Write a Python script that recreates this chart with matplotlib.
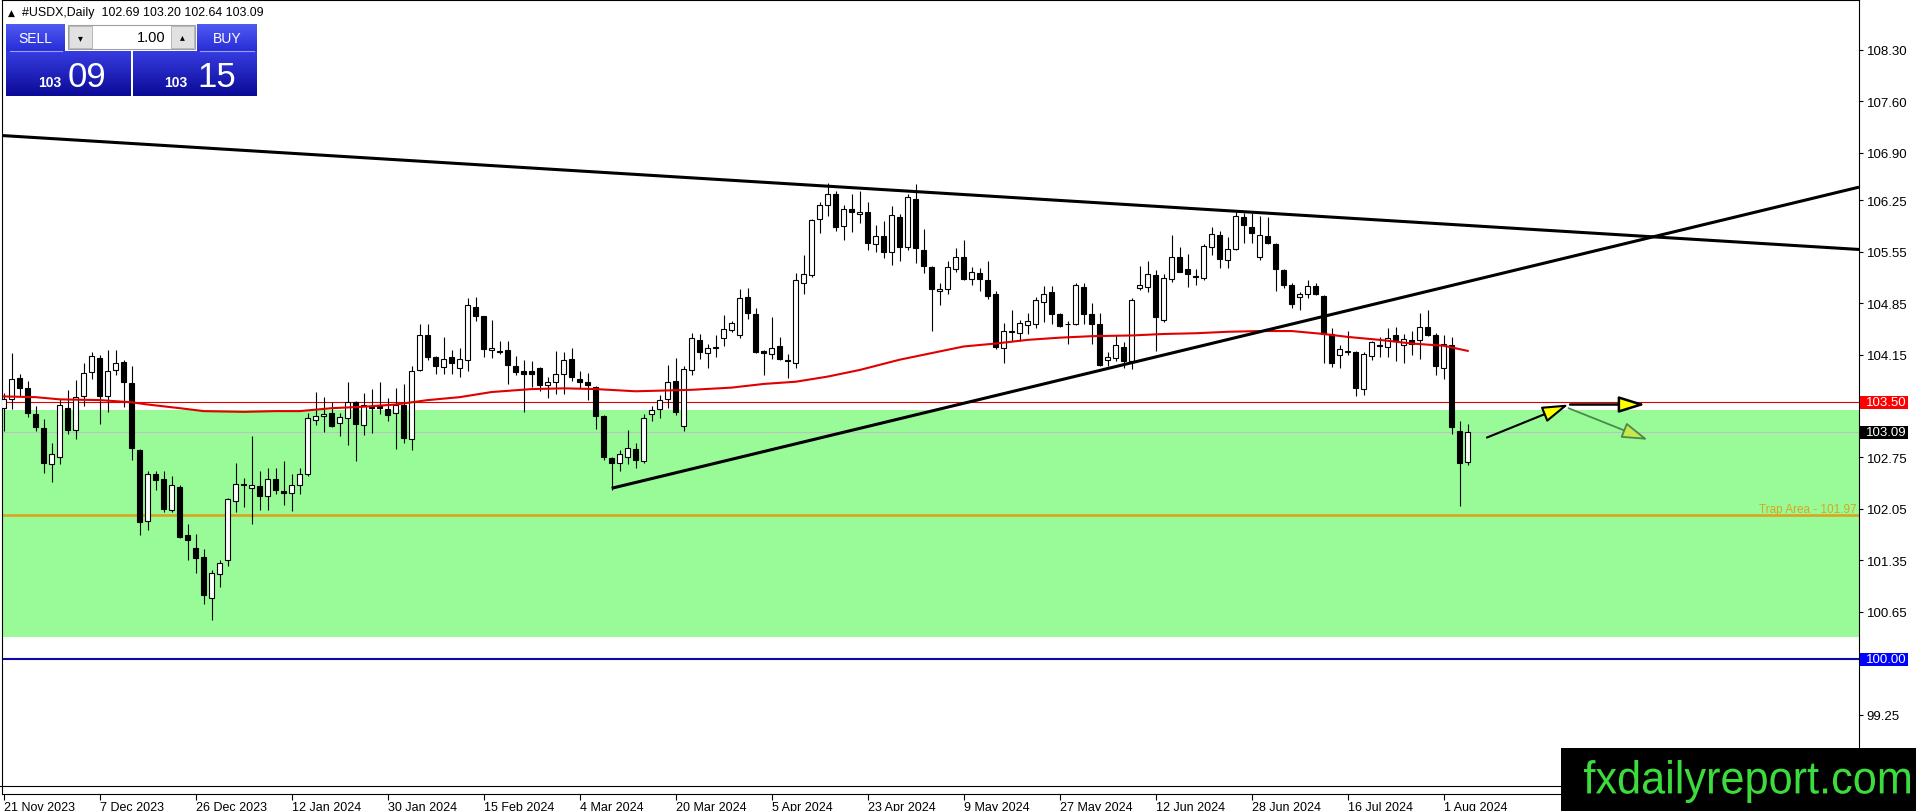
import numpy as np
import matplotlib
matplotlib.use('Agg')
import matplotlib.pyplot as plt
from matplotlib.patches import Rectangle, PathPatch
from matplotlib.textpath import TextPath
from matplotlib.font_manager import FontProperties
from matplotlib.transforms import Affine2D, blended_transform_factory

# ---- data (USDX daily, 21 Nov 2023 .. 6 Aug 2024) ----
opens = [103.42, 103.54, 103.83, 103.69, 103.34, 103.15, 102.66, 102.76, 103.42, 103.12,
         103.58, 103.91, 104.10, 103.59, 103.94, 104.05, 103.76, 102.85, 101.88, 102.53,
         102.45, 102.04, 102.35, 101.70, 101.51, 101.40, 100.84, 101.16, 101.35, 102.16,
         102.38, 102.34, 102.36, 102.22, 102.45, 102.29, 102.26, 102.38, 102.53, 103.26,
         103.31, 103.35, 103.22, 103.28, 103.50, 103.19, 103.42, 103.45, 103.41, 103.35,
         103.46, 103.00, 103.94, 104.42, 104.12, 103.98, 104.11, 103.97, 104.07, 104.80,
         104.67, 104.21, 104.20, 104.21, 103.99, 103.93, 103.92, 103.97, 103.74, 103.77,
         103.88, 104.09, 103.82, 103.78, 103.71, 103.32, 102.74, 102.68, 102.76, 102.86,
         102.70, 103.34, 103.41, 103.54, 103.79, 103.18, 103.94, 104.35, 104.17, 104.24,
         104.38, 104.48, 104.42, 104.93, 104.70, 104.20, 104.16, 104.26, 104.07, 104.04,
         105.13, 105.23, 106.00, 106.18, 106.33, 105.90, 106.13, 106.06, 106.09, 105.65,
         105.77, 105.54, 106.02, 105.61, 106.27, 105.58, 105.34, 105.01, 105.04, 105.32,
         105.48, 105.18, 105.26, 105.17, 104.97, 104.24, 104.46, 104.44, 104.55, 104.57,
         104.87, 105.00, 104.70, 104.56, 104.57, 105.07, 104.70, 104.57, 104.08, 104.10,
         104.25, 104.06, 105.06, 105.07, 105.23, 104.62, 105.18, 105.48, 105.32, 105.22,
         105.19, 105.62, 105.78, 105.44, 105.59, 106.02, 105.89, 105.48, 105.77, 105.66,
         105.30, 105.09, 104.93, 104.97, 105.08, 104.95, 104.43, 104.15, 104.19, 104.19,
         103.68, 104.13, 104.28, 104.25, 104.41, 104.28, 104.35, 104.35, 104.52, 104.42,
         103.97, 104.28, 103.11, 102.69]
highs = [103.63, 104.17, 103.88, 103.79, 103.45, 103.27, 102.95, 103.54, 103.67, 103.80,
         104.04, 104.19, 104.14, 104.21, 104.21, 104.07, 103.99, 102.86, 102.57, 102.56,
         102.57, 102.49, 102.38, 101.84, 101.71, 101.50, 101.22, 101.35, 102.20, 102.67,
         102.47, 103.04, 102.56, 102.60, 102.60, 102.70, 102.53, 102.60, 103.36, 103.64,
         103.57, 103.51, 103.35, 103.78, 103.52, 103.63, 103.68, 103.78, 103.56, 103.69,
         103.75, 104.00, 104.56, 104.56, 104.13, 104.39, 104.21, 104.24, 104.92, 104.94,
         104.68, 104.62, 104.34, 104.34, 104.13, 104.07, 104.06, 103.98, 103.84, 104.20,
         104.18, 104.24, 103.92, 103.90, 103.72, 103.33, 102.75, 102.85, 103.12, 102.95,
         103.34, 103.45, 103.60, 104.01, 104.10, 104.00, 104.45, 104.43, 104.29, 104.42,
         104.69, 104.61, 105.04, 105.06, 104.79, 104.21, 104.66, 104.39, 104.16, 105.26,
         105.50, 106.00, 106.23, 106.48, 106.38, 106.18, 106.33, 106.37, 106.22, 105.91,
         105.97, 106.17, 106.06, 106.34, 106.47, 105.86, 105.35, 105.12, 105.42, 105.60,
         105.71, 105.34, 105.33, 105.43, 105.01, 104.58, 104.76, 104.62, 104.72, 104.94,
         105.08, 105.08, 104.71, 104.60, 105.12, 105.13, 104.85, 104.72, 104.18, 104.42,
         104.32, 104.92, 105.36, 105.43, 105.30, 105.25, 105.78, 105.62, 105.52, 105.32,
         105.66, 105.89, 105.83, 105.75, 106.09, 106.08, 106.08, 106.03, 106.02, 105.67,
         105.31, 105.12, 105.00, 105.17, 105.13, 104.96, 104.51, 104.28, 104.47, 104.20,
         104.18, 104.34, 104.39, 104.51, 104.52, 104.43, 104.47, 104.71, 104.76, 104.44,
         104.41, 104.39, 103.24, 103.20]
lows = [103.11, 103.41, 103.59, 103.30, 103.11, 102.54, 102.41, 102.66, 103.07, 103.00,
        103.45, 103.82, 103.21, 103.37, 103.87, 103.43, 102.72, 101.70, 101.76, 102.31,
        102.00, 102.00, 101.65, 101.36, 101.18, 100.75, 100.54, 100.99, 101.27, 102.01,
        102.08, 101.84, 102.03, 102.03, 102.25, 102.10, 102.02, 102.25, 102.50, 103.19,
        103.09, 103.16, 103.04, 102.92, 102.70, 103.06, 103.08, 103.34, 103.25, 102.87,
        102.95, 102.85, 103.92, 104.07, 103.88, 103.89, 103.89, 103.84, 103.92, 104.61,
        104.12, 104.10, 104.16, 103.75, 103.87, 103.37, 103.71, 103.66, 103.56, 103.61,
        103.61, 103.79, 103.69, 103.53, 103.13, 102.72, 102.30, 102.57, 102.66, 102.60,
        102.68, 103.25, 103.28, 103.42, 103.33, 103.11, 103.87, 104.09, 103.97, 104.11,
        104.26, 104.46, 104.37, 104.63, 104.17, 103.87, 104.09, 104.07, 103.83, 103.97,
        104.98, 105.20, 105.80, 106.04, 105.83, 105.71, 105.82, 105.94, 105.58, 105.54,
        105.47, 105.37, 105.43, 105.58, 105.39, 105.26, 104.47, 104.82, 104.97, 105.27,
        105.16, 105.09, 105.01, 104.91, 104.23, 104.04, 104.34, 104.34, 104.43, 104.51,
        104.59, 104.57, 104.52, 104.29, 104.55, 104.57, 104.30, 104.00, 103.99, 104.06,
        103.97, 103.96, 105.03, 105.00, 104.20, 104.59, 105.14, 105.27, 105.07, 105.10,
        105.17, 105.51, 105.33, 105.33, 105.57, 105.67, 105.67, 105.44, 105.65, 105.01,
        105.06, 104.78, 104.76, 104.92, 104.96, 104.03, 103.98, 103.97, 104.15, 103.59,
        103.60, 104.07, 104.12, 104.11, 104.06, 104.03, 104.15, 104.09, 104.40, 103.87,
        103.82, 103.07, 102.09, 102.64]
closes = [103.54, 103.82, 103.70, 103.36, 103.16, 102.68, 102.80, 103.47, 103.12, 103.57,
          103.90, 104.13, 103.58, 103.92, 104.03, 103.77, 102.88, 101.87, 102.53, 102.44,
          102.05, 102.37, 101.67, 101.63, 101.38, 100.87, 101.17, 101.31, 102.18, 102.39,
          102.37, 102.37, 102.22, 102.45, 102.30, 102.26, 102.37, 102.53, 103.29, 103.32,
          103.34, 103.18, 103.30, 103.50, 103.20, 103.47, 103.43, 103.42, 103.33, 103.46,
          103.01, 103.92, 104.41, 104.12, 104.00, 104.09, 104.03, 104.09, 104.83, 104.67,
          104.22, 104.24, 104.18, 104.01, 103.91, 103.88, 103.89, 103.73, 103.78, 103.89,
          104.07, 103.84, 103.78, 103.73, 103.31, 102.75, 102.68, 102.79, 102.88, 102.72,
          103.29, 103.39, 103.53, 103.77, 103.37, 103.95, 104.38, 104.18, 104.24, 104.25,
          104.50, 104.58, 104.92, 104.72, 104.19, 104.17, 104.24, 104.09, 104.06, 105.17,
          105.25, 105.98, 106.18, 106.34, 105.89, 106.13, 106.09, 106.09, 105.67, 105.77,
          105.54, 106.05, 105.62, 106.30, 105.60, 105.35, 105.04, 105.04, 105.34, 105.48,
          105.18, 105.27, 105.18, 104.95, 104.25, 104.47, 104.47, 104.58, 104.60, 104.89,
          104.98, 104.70, 104.54, 104.57, 105.09, 104.70, 104.57, 104.01, 104.11, 104.28,
          104.06, 104.89, 105.09, 105.24, 104.66, 105.19, 105.48, 105.28, 105.24, 105.20,
          105.63, 105.79, 105.45, 105.59, 106.03, 105.91, 105.81, 105.78, 105.67, 105.32,
          105.10, 104.84, 104.97, 105.08, 104.97, 104.43, 104.03, 104.22, 104.20, 103.69,
          104.16, 104.32, 104.26, 104.38, 104.34, 104.36, 104.30, 104.53, 104.42, 104.00,
          104.29, 103.16, 102.68, 103.09]

# red moving average, read at sampled bars
ma_idx = [0, 4, 7, 12, 16, 18, 22, 25, 30, 34, 37, 41, 45, 49, 51, 53, 57, 61, 66, 70,
          74, 79, 86, 91, 95, 99, 103, 107, 112, 116, 120, 124, 128, 132, 136, 141, 145,
          149, 153, 157, 161, 165, 168, 172, 176, 180, 183]
ma_val = [103.58, 103.57, 103.54, 103.53, 103.50, 103.47, 103.42, 103.38, 103.37, 103.38,
          103.38, 103.42, 103.44, 103.47, 103.50, 103.53, 103.57, 103.64, 103.68, 103.69,
          103.68, 103.65, 103.67, 103.70, 103.75, 103.78, 103.85, 103.94, 104.08, 104.17,
          104.26, 104.30, 104.35, 104.38, 104.40, 104.41, 104.43, 104.44, 104.46, 104.47,
          104.47, 104.43, 104.39, 104.35, 104.30, 104.27, 104.20]

date_idx = [0, 12, 24, 36, 48, 60, 72, 84, 96, 108, 120, 132, 144, 156, 168, 180]
date_labels = ['21 Nov 2023', '7 Dec 2023', '26 Dec 2023', '12 Jan 2024', '30 Jan 2024',
               '15 Feb 2024', '4 Mar 2024', '20 Mar 2024', '5 Apr 2024', '23 Apr 2024',
               '9 May 2024', '27 May 2024', '12 Jun 2024', '28 Jun 2024', '16 Jul 2024',
               '1 Aug 2024']
price_ticks = [108.30, 107.60, 106.90, 106.25, 105.55, 104.85, 104.15,
               102.75, 102.05, 101.35, 100.65, 99.25, 98.55]

# objects drawn on the chart
desc_line = [(0, 107.13), (232, 105.58)]
asc_line = [(76, 102.33), (138, 103.96)]
level_red = 103.50
level_bid = 103.09
level_blue = 100.00
trap_level = 101.97
zone = (100.30, 103.39)
arrow_up = [(185.4, 103.02), (195.6, 103.47)]
arrow_flat = [(195.8, 103.47), (205.2, 103.47)]
arrow_down = [(195.6, 103.42), (205.5, 102.99)]
header_vals = [102.69, 103.20, 102.64, 103.09]
bid, ask = '103.09', '103.15'

# ---- layout (pixels) ----
W, H = 1916, 812
BAR0, BARW = 3.7, 8.0
P_REF, Y_REF, PPU = 103.50, 403.3, 73.46
AX_L, AX_R, AX_T, AX_B = 2, 1859, 1, 795


def price_y(p):
    return Y_REF + (P_REF - p) * PPU


def y_price(y):
    return P_REF - (y - Y_REF) / PPU


TXT = ['Liberation Sans', 'DejaVu Sans']
NARROW = ['Liberation Sans Narrow', 'Liberation Sans', 'DejaVu Sans']

fig = plt.figure(figsize=(W / 100, H / 100), dpi=100)
fig.patch.set_facecolor('white')
ax = fig.add_axes([AX_L / W, (H - AX_B) / H, (AX_R - AX_L) / W, (AX_B - AX_T) / H])
ax.set_facecolor('white')

idx = np.arange(len(opens))
o = np.array(opens)
h = np.array(highs)
l = np.array(lows)
c = np.array(closes)

ax.axhspan(zone[0], zone[1], color='#98FB98', lw=0, zorder=0.5)
ax.axhline(level_bid, color='#C0C0C0', lw=0.8, zorder=1)
ax.axhline(level_red, color='#E00000', lw=0.8, zorder=1)
ax.axhline(level_blue, color='#0A0AA6', lw=1.5, zorder=1)
ax.axhline(trap_level, color='#DAA520', lw=1.9, zorder=1)

# candles
ax.vlines(idx, l, h, color='black', lw=0.8, zorder=2)
up = c >= o
bottoms = np.minimum(o, c)
heights = np.maximum(np.abs(c - o), 0.012)
ax.bar(idx, heights, bottom=bottoms, width=0.6,
       color=np.where(up, 'white', 'black'), edgecolor='black', linewidth=0.8, zorder=3)

ax.plot(ma_idx, ma_val, color='#E00000', lw=1.5, zorder=4)

# trend lines
ax.axline(desc_line[0], desc_line[1], color='black', lw=2.2, zorder=5)
x_lim = ((AX_L - BAR0) / BARW, (AX_R - BAR0) / BARW)
(x1, y1), (x2, y2) = asc_line
slope = (y2 - y1) / (x2 - x1)
ax.plot([x1, x_lim[1]], [y1, y1 + slope * (x_lim[1] - x1)], color='black', lw=2.2, zorder=5,
        solid_capstyle='butt')

# arrows
for (a, b), ec, fc, lw in [(arrow_up, 'black', '#FFFF00', 1.5),
                           (arrow_flat, 'black', '#FFFF00', 1.8),
                           (arrow_down, '#4A8A4A', '#C8E850', 1.3)]:
    ax.annotate('', xy=b, xytext=a, annotation_clip=False, zorder=6,
                arrowprops=dict(arrowstyle='-|>,head_length=1.6,head_width=0.5',
                                mutation_scale=10, shrinkA=0, shrinkB=0,
                                edgecolor=ec, facecolor=fc, lw=lw))

trans = blended_transform_factory(ax.transAxes, ax.transData)
ax.text(1 - 2.5 / (AX_R - AX_L), trap_level, 'Trap Area - 101.97', transform=trans,
        ha='right', va='bottom', color='#DAA520', fontsize=8.5, family=TXT, zorder=6)

ax.set_xlim(*x_lim)
ax.set_ylim(y_price(AX_B), y_price(AX_T))

ax.yaxis.tick_right()
ax.set_yticks(price_ticks)
ax.set_yticklabels(['%.2f' % v for v in price_ticks], fontsize=9.5, family=TXT)
ax.tick_params(axis='y', direction='out', length=3, width=0.8, pad=2.5, colors='black')
ax.set_xticks(date_idx)
ax.set_xticklabels(date_labels, fontsize=9, family=NARROW, ha='left')
ax.tick_params(axis='x', direction='out', length=4, width=0.8, pad=1)
for s in ax.spines.values():
    s.set_color('black')
    s.set_linewidth(0.8)

# ---- overlay in pixel coordinates: trade panel, axis boxes, logo ----
ui = fig.add_axes([0, 0, 1, 1], zorder=10)
ui.patch.set_alpha(0)
ui.axis('off')


def grad_rect(x0, y0, x1, y1, top, bot):
    t = np.linspace(0, 1, 64)[:, None]
    img = (1 - t) * np.array(top)[None, :] + t * np.array(bot)[None, :]
    ui.imshow(img[:, None, :] / 255.0, extent=(x0, x1, y1, y0), aspect='auto',
              interpolation='bilinear', zorder=1)


ui.plot([0, 1561], [787, 787], color='black', lw=0.8, zorder=1)

ui.text(11, 13, '\u25b2', fontsize=6.5, ha='center', va='center', family='DejaVu Sans')
ui.text(22, 13, '#USDX,Daily  ' + ' '.join('%.2f' % v for v in header_vals),
        fontsize=8.9, va='center', ha='left', family=TXT)

grad_rect(6, 25, 65, 52, (80, 90, 240), (40, 45, 215))
grad_rect(197, 25, 257, 52, (80, 90, 240), (40, 45, 215))
grad_rect(6, 52, 131, 97, (55, 60, 225), (10, 10, 150))
grad_rect(133, 52, 257, 97, (55, 60, 225), (10, 10, 150))
ui.plot([10, 62], [52, 52], color='#9AA0F0', lw=0.8, zorder=2)
ui.plot([200, 254], [52, 52], color='#9AA0F0', lw=0.8, zorder=2)
ui.text(35, 39, 'SELL', color='white', fontsize=10, ha='center', va='center', family=TXT, zorder=3)
ui.text(227, 39, 'BUY', color='white', fontsize=10, ha='center', va='center', family=TXT, zorder=3)

ui.add_patch(Rectangle((68, 26), 127, 24, facecolor='white', edgecolor='#A0A0A0', lw=0.8, zorder=2))
ui.add_patch(Rectangle((69, 27), 23, 22, facecolor='#E1E1E1', edgecolor='#B0B0B0', lw=0.6, zorder=2))
ui.add_patch(Rectangle((171, 27), 23, 22, facecolor='#E1E1E1', edgecolor='#B0B0B0', lw=0.6, zorder=2))
ui.text(80.5, 38, '\u25be', fontsize=7, ha='center', va='center', family='DejaVu Sans', zorder=3)
ui.text(182.5, 37, '\u25b4', fontsize=7, ha='center', va='center', family='DejaVu Sans', zorder=3)
ui.text(166, 38, '1.00', fontsize=10.5, ha='right', va='center', family=TXT, zorder=3)

for x_small, x_big, price in [(38, 68, bid), (164, 197, ask)]:
    big, small = price.split('.')
    ui.text(x_small, 87, big, color='white', fontsize=10, fontweight='bold',
            va='baseline', ha='left', family=TXT, zorder=3)
    ui.text(x_big, 87, small, color='white', fontsize=25, va='baseline', ha='left',
            family=TXT, zorder=3)

for p, col in [(level_red, '#FF0000'), (level_bid, 'black'), (level_blue, '#0000FF')]:
    yy = price_y(p)
    ui.add_patch(Rectangle((AX_R + 1.5, yy - 6.5), 48, 13, facecolor=col, lw=0, zorder=3))
    ui.text(AX_R + 7, yy, '%.2f' % p, color='white', fontsize=9.5, ha='left', va='center',
            family=TXT, zorder=4)

# logo
ui.add_patch(Rectangle((1561, 749), W - 1561, H - 749, facecolor='black', lw=0, zorder=5))
tp = TextPath((0, 0), 'fxdailyreport.com', size=100, prop=FontProperties(family=NARROW))
bb = tp.get_extents()
tr = Affine2D().translate(-bb.x0, -bb.y1).scale(326 / bb.width, -43 / bb.height).translate(1584, 761)
ui.add_patch(PathPatch(tr.transform_path(tp), facecolor='#3CDC3C', lw=0, zorder=6))

ui.set_xlim(0, W)
ui.set_ylim(H, 0)

fig.savefig('out.png', dpi=100, facecolor='white')
